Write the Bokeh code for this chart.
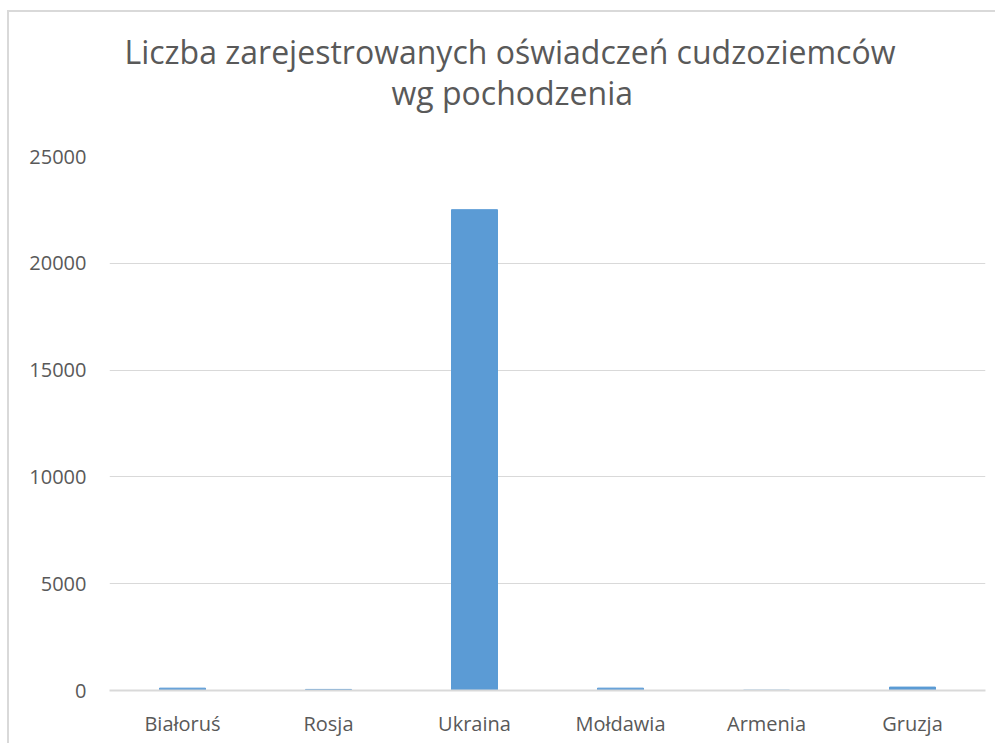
from bokeh.plotting import figure
from bokeh.models import Title, Range1d, SingleIntervalTicker
from bokeh.embed import file_html
from bokeh.resources import INLINE

categories = ["Białoruś", "Rosja", "Ukraina", "Mołdawia", "Armenia", "Gruzja"]
values = [110, 50, 22510, 110, 15, 160]
title_line1 = "Liczba zarejestrowanych oświadczeń cudzoziemców"
title_line2 = "wg pochodzenia"

FONT = "Open Sans"
TXT = "#595959"
GRID = "#d9d9d9"

p = figure(x_range=categories, width=988, height=733, output_backend="svg",
           toolbar_location=None, tools="",
           min_border_left=100, min_border_right=12, min_border_top=144, min_border_bottom=55)
p.title = None
p.add_layout(Title(text=title_line2, align="left", offset=282, text_font=FONT,
                   text_font_size="32px", text_font_style="normal", text_color=TXT,
                   standoff=86), "above")
p.add_layout(Title(text=title_line1, align="left", offset=15, text_font=FONT,
                   text_font_size="32px", text_font_style="normal", text_color=TXT,
                   standoff=-95), "above")
p.y_range = Range1d(0, 25000)
p.vbar(x=categories, top=values, width=0.315, color="#5B9BD5")

p.outline_line_color = None
p.background_fill_color = "white"
p.border_fill_color = "white"
p.styles = {"border-left": "2px solid #d9d9d9", "border-top": "2px solid #d9d9d9",
            "margin-left": "7px", "margin-top": "10px"}

p.xgrid.grid_line_color = None
p.ygrid.grid_line_color = GRID
p.ygrid.grid_line_width = 1

p.yaxis.ticker = SingleIntervalTicker(interval=5000)
p.yaxis.axis_line_color = None
p.yaxis.major_tick_line_color = None
p.yaxis.minor_tick_line_color = None
p.yaxis.major_label_standoff = 17
p.yaxis.major_label_text_font = FONT
p.yaxis.major_label_text_font_size = "20px"
p.yaxis.major_label_text_color = TXT

p.xaxis.axis_line_color = GRID
p.xaxis.axis_line_width = 2
p.xaxis.major_tick_line_color = None
p.xaxis.minor_tick_line_color = None
p.xaxis.major_label_standoff = 13
p.xaxis.major_label_text_font = FONT
p.xaxis.major_label_text_font_size = "20px"
p.xaxis.major_label_text_color = TXT

open("out.html", "w").write(file_html(p, INLINE))
